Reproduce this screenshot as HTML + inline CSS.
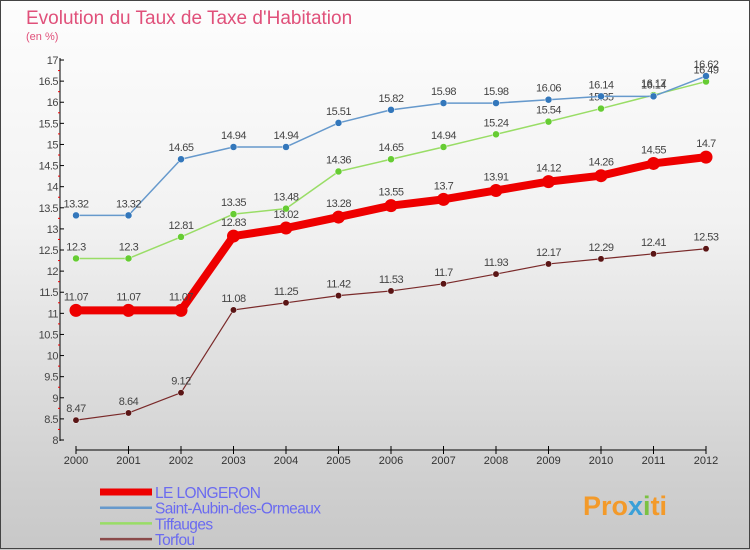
<!DOCTYPE html>
<html><head><meta charset="utf-8"><style>
body{margin:0}
#c{position:relative;width:750px;height:550px;overflow:hidden;font-family:"Liberation Sans",sans-serif;background:linear-gradient(#fdfdfd,#f2f2f2 40%,#cfcfcf 88%,#c8c8c8);}
</style></head><body>
<div id="c">
<svg id="s" width="750" height="550" style="position:absolute;left:0;top:0">
<rect x="0.5" y="0.5" width="749" height="548" fill="none" stroke="#444" stroke-width="1"/>
<text x="26" y="24" font-size="19" fill="#e0507a">Evolution du Taux de Taxe d'Habitation</text>
<text x="26" y="40" font-size="11" fill="#e0507a">(en %)</text>
<g id="legend"></g>
<text x="583" y="515" font-size="27" font-weight="bold" fill="#f39a2a">Pro<tspan fill="#3aa0d8">x</tspan><tspan fill="#7bc142">i</tspan>ti</text>
</svg>
</div>
<script>
const years=[2000,2001,2002,2003,2004,2005,2006,2007,2008,2009,2010,2011,2012];
const seriesNames=["LE LONGERON","Saint-Aubin-des-Ormeaux","Tiffauges","Torfou"];
const longeron=[11.07,11.07,11.07,12.83,13.02,13.28,13.55,13.7,13.91,14.12,14.26,14.55,14.7];
const saintAubin=[13.32,13.32,14.65,14.94,14.94,15.51,15.82,15.98,15.98,16.06,16.14,16.14,16.62];
const tiffauges=[12.3,12.3,12.81,13.35,13.48,14.36,14.65,14.94,15.24,15.54,15.85,16.17,16.49];
const torfou=[8.47,8.64,9.12,11.08,11.25,11.42,11.53,11.7,11.93,12.17,12.29,12.41,12.53];
const yTicks=[8,8.5,9,9.5,10,10.5,11,11.5,12,12.5,13,13.5,14,14.5,15,15.5,16,16.5,17];
const NS="http://www.w3.org/2000/svg";
const svg=document.getElementById('s');
const X=i=>76+i*52.5;
const Y=v=>440-(v-8)*42.22;
function mk(t,a,p){const e=document.createElementNS(NS,t);for(const k in a)e.setAttribute(k,a[k]);(p||svg).appendChild(e);return e;}
// axes
const ax=mk('line',{x1:60,y1:58,x2:60,y2:441,stroke:'#000','stroke-width':1});


const bx=mk('line',{x1:76,y1:450,x2:706,y2:450,stroke:'#000','stroke-width':1});


for(let v=8;v<=17.001;v+=0.25){
  const y=Y(v);const major=Math.abs(v*2-Math.round(v*2))<1e-6;
  mk('line',{x1:major?60:58,y1:y,x2:major?64:60,y2:y,stroke:major?'#000':'#e00','stroke-width':1});
}
yTicks.forEach(v=>{
  const t=mk('text',{x:58,y:Y(v)+4,'font-size':11,fill:'#444','text-anchor':'end','letter-spacing':'-0.5'});
  t.textContent=String(v);
  
  
});
years.forEach((yr,i)=>{
  mk('line',{x1:X(i),y1:446,x2:X(i),y2:454,stroke:'#000','stroke-width':1});
  const t=mk('text',{x:X(i),y:464,'font-size':11,fill:'#333','text-anchor':'middle'});
  t.textContent=yr;
  
  
});
const defs=[
 {d:torfou,c:'#7a2a2a',dot:'#5a1515',w:1.2,r:3.2,key:'torfou'},
 {d:tiffauges,c:'#99dd66',dot:'#66cc33',w:1.5,r:3.5,key:'tiffauges'},
 {d:saintAubin,c:'#6699cc',dot:'#3377bb',w:1.5,r:3.5,key:'saint-aubin'},
 {d:longeron,c:'#ee0000',dot:'#ee0000',w:8,r:6.5,key:'le-longeron'}];
defs.forEach(s=>{
  const g=mk('g',{});
  
  
  const p=mk('polyline',{points:s.d.map((v,i)=>X(i)+','+Y(v)).join(' '),fill:'none',stroke:s.c,'stroke-width':s.w,'stroke-linejoin':'round'},g);
  
  
  s.d.forEach((v,i)=>{
    const c=mk('circle',{cx:X(i),cy:Y(v),r:s.r,fill:s.dot,stroke:'#fff','stroke-width':s.w>2?0:0.5},g);
    
    
    const t=mk('text',{x:X(i),y:Y(v)-(s.w>2?10:8),'font-size':11,fill:'#444','text-anchor':'middle','letter-spacing':'-0.5'},g);
    t.textContent=String(v);
    
    
  });
});
const lg=document.getElementById('legend');
const lcol=['#ee0000','#6699cc','#99dd66','#8a4a4a'];
const lw=[7,2.5,2.5,2.5];
seriesNames.forEach((n,i)=>{
  const y=492+i*15.7;
  const l=mk('line',{x1:100,y1:y,x2:152,y2:y,stroke:lcol[i],'stroke-width':lw[i]},lg);
  
  
  const t=mk('text',{x:155,y:y+6,'font-size':15.5,fill:'#6b6bf0','letter-spacing':'-0.6'},lg);
  t.textContent=n;
  
  
});
</script>
</body></html>
